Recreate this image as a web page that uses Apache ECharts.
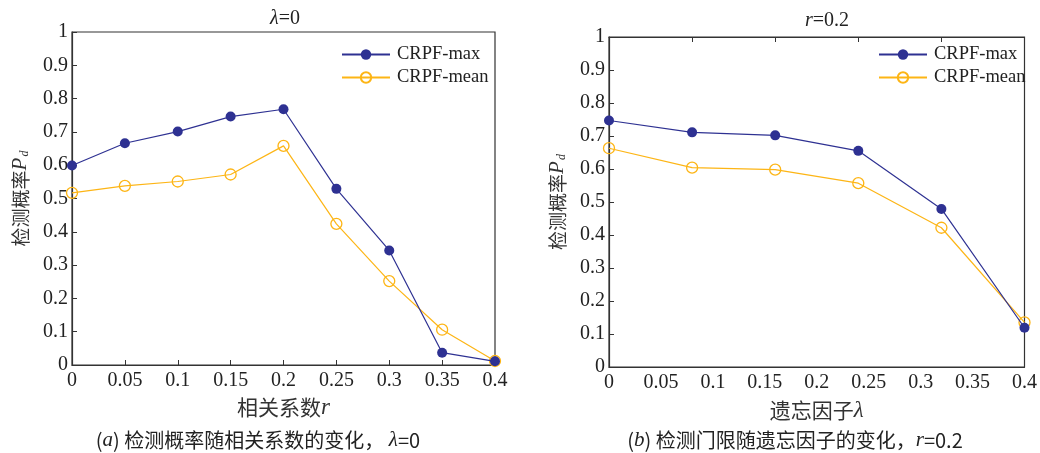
<!DOCTYPE html>
<html>
<head>
<meta charset="utf-8">
<script src="https://cdn.jsdelivr.net/npm/echarts@6/dist/echarts.min.js"></script>
<style>
  html, body { margin: 0; padding: 0; background: #fff; }
  #main { width: 1040px; height: 453px; }
</style>
</head>
<body>
<div id="main"></div>
<script>
// (a) 相关系数 r, lambda = 0
var rVals = [0, 0.05, 0.1, 0.15, 0.2, 0.25, 0.3, 0.35, 0.4];
var maxA = [0.599, 0.666, 0.701, 0.746, 0.768, 0.529, 0.344, 0.037, 0.011];
var meanA = [0.517, 0.538, 0.551, 0.572, 0.658, 0.424, 0.252, 0.106, 0.012];

// (b) 遗忘因子 lambda, r = 0.2
var lambdaVals = [0, 0.08, 0.16, 0.24, 0.32, 0.4];
var maxB = [0.747, 0.711, 0.702, 0.655, 0.479, 0.119];
var meanB = [0.663, 0.604, 0.598, 0.557, 0.422, 0.135];

var blue = '#2E3192';
var orange = '#FDB515';
var serif = '"Liberation Serif", "Times New Roman", serif';
var cjk = '"Noto Sans CJK SC", sans-serif';

function pairs(xs, ys) {
  return xs.map(function (x, i) { return [x, ys[i]]; });
}

function maxSeries(data, xi, yi) {
  return {
    name: 'CRPF-max', type: 'line', xAxisIndex: xi, yAxisIndex: yi,
    data: data, symbol: 'circle', symbolSize: 10, clip: false, z: 3,
    lineStyle: { color: blue, width: 1.2 },
    itemStyle: { color: blue }
  };
}
function meanSeries(data, xi, yi) {
  return {
    name: 'CRPF-mean', type: 'line', xAxisIndex: xi, yAxisIndex: yi,
    data: data, symbol: 'circle', symbolSize: 11, clip: false, z: 2,
    lineStyle: { color: orange, width: 1.2 },
    itemStyle: { color: 'rgba(255,255,255,0)', borderColor: orange, borderWidth: 1.3 }
  };
}

var yName = {
  name: '{c|检测概率}{p|P}{d|d}',
  nameLocation: 'middle',
  nameRotate: 90,
  nameTextStyle: {
    rich: {
      c: { fontFamily: cjk, fontSize: 19, color: '#333' },
      p: { fontFamily: serif, fontStyle: 'italic', fontSize: 21, color: '#333' },
      d: { fontFamily: serif, fontStyle: 'italic', fontSize: 12, color: '#333', padding: [9, 0, 0, 1] }
    }
  }
};

function yAxis(gi, gap) {
  return Object.assign({
    type: 'value', gridIndex: gi, min: 0, max: 1, interval: 0.1,
    nameGap: gap,
    axisLine: { show: true, lineStyle: { color: '#333', width: 1.2 } },
    axisTick: { show: true, inside: true, length: 5, lineStyle: { color: '#333' } },
    axisLabel: { color: '#222', fontFamily: serif, fontSize: 20, margin: 4 },
    splitLine: { show: false }
  }, yName);
}

var xLabelStyle = { color: '#222', fontFamily: serif, fontSize: 20, margin: 6 };
var xLine = { show: true, lineStyle: { color: '#333', width: 1.2 } };
var legendText = { fontFamily: serif, fontSize: 18.5, color: '#222', padding: [0, 0, 0, 2] };

var option = {
  animation: false,
  backgroundColor: '#fff',
  title: [
    { text: '{i|λ}=0', left: 280, top: 4, textAlign: 'center',
      textStyle: { fontFamily: serif, fontWeight: 'normal', fontSize: 20, color: '#222',
        rich: { i: { fontFamily: serif, fontStyle: 'italic', fontSize: 20, color: '#222' } } } },
    { text: '{i|r}=0.2', left: 822, top: 6, textAlign: 'center',
      textStyle: { fontFamily: serif, fontWeight: 'normal', fontSize: 20, color: '#222',
        rich: { i: { fontFamily: serif, fontStyle: 'italic', fontSize: 20, color: '#222' } } } }
  ],
  legend: [
    { data: ['CRPF-max', 'CRPF-mean'], orient: 'vertical', left: 336, top: 40,
      itemWidth: 48, itemHeight: 13, itemGap: 4, textStyle: legendText },
    { data: ['CRPF-max', 'CRPF-mean'], orient: 'vertical', left: 873, top: 40,
      itemWidth: 48, itemHeight: 13, itemGap: 4, textStyle: legendText }
  ],
  grid: [
    { left: 72, right: 545, top: 32, bottom: 88, show: true, borderColor: '#333', borderWidth: 1.2, backgroundColor: 'transparent' },
    { left: 609, right: 4, top: 37, bottom: 86, show: true, borderColor: '#333', borderWidth: 1.2, backgroundColor: 'transparent' }
  ],
  xAxis: [
    { type: 'value', gridIndex: 0, min: 0, max: 0.4, interval: 0.05,
      name: '相关系数{i|r}', nameLocation: 'middle', nameGap: 31,
      nameTextStyle: { fontFamily: cjk, fontSize: 21, color: '#333',
        rich: { i: { fontFamily: serif, fontStyle: 'italic', fontSize: 23, color: '#333' } } },
      axisLine: xLine,
      axisTick: { show: true, inside: true, length: 5, lineStyle: { color: '#333' } },
      axisLabel: xLabelStyle, splitLine: { show: false } },
    // (b) labels every 0.05, without ticks
    { type: 'value', gridIndex: 1, min: 0, max: 0.4, interval: 0.05,
      name: '遗忘因子{i|λ}', nameLocation: 'middle', nameGap: 32,
      nameTextStyle: { fontFamily: cjk, fontSize: 21, color: '#333',
        rich: { i: { fontFamily: serif, fontStyle: 'italic', fontSize: 23, color: '#333' } } },
      axisLine: xLine, axisTick: { show: false },
      axisLabel: xLabelStyle, splitLine: { show: false } },
    // (b) ticks at the sampled lambda values
    { type: 'value', gridIndex: 1, min: 0, max: 0.4, interval: 0.08,
      axisLine: xLine,
      axisTick: { show: true, inside: true, length: 5, lineStyle: { color: '#333' } },
      axisLabel: { show: false }, splitLine: { show: false } }
  ],
  yAxis: [yAxis(0, 41), yAxis(1, 41)],
  series: [
    meanSeries(pairs(rVals, meanA), 0, 0),
    maxSeries(pairs(rVals, maxA), 0, 0),
    meanSeries(pairs(lambdaVals, meanB), 2, 1),
    maxSeries(pairs(lambdaVals, maxB), 2, 1)
  ],
  graphic: [
    { type: 'text', x: 258, y: 440,
      style: { text: '({i|a}) 检测概率随相关系数的变化， {i|λ}=0',
        font: '20px ' + cjk, fill: '#222', align: 'center', verticalAlign: 'middle',
        rich: { i: { fontFamily: serif, fontStyle: 'italic', fontSize: 21, fill: '#222' } } } },
    { type: 'text', x: 795, y: 440,
      style: { text: '({i|b}) 检测门限随遗忘因子的变化，{i|r}=0.2',
        font: '20px ' + cjk, fill: '#222', align: 'center', verticalAlign: 'middle',
        rich: { i: { fontFamily: serif, fontStyle: 'italic', fontSize: 21, fill: '#222' } } } }
  ]
};

var chart = echarts.init(document.getElementById('main'), null, { renderer: 'canvas' });
chart.setOption(option);
</script>
</body>
</html>
